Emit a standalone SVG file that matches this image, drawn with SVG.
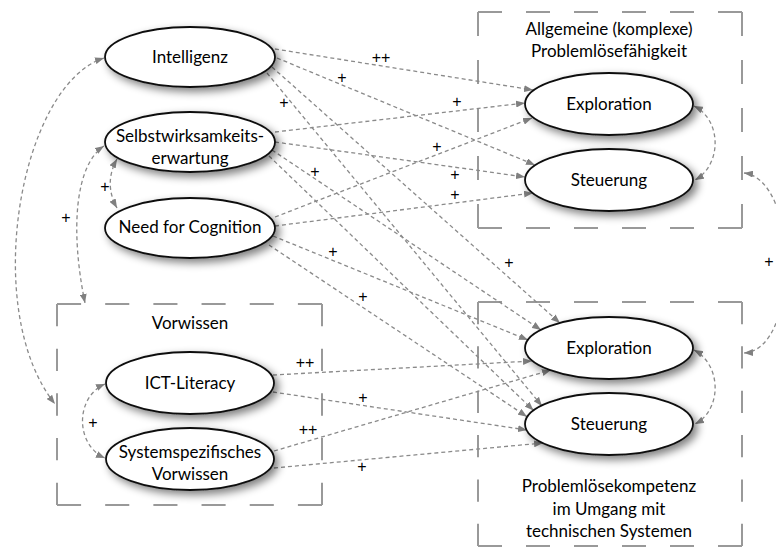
<svg xmlns="http://www.w3.org/2000/svg" width="776" height="548" viewBox="0 0 776 548">
<defs>
<style>
.t{font-family:Lato,"Open Sans","Liberation Sans",sans-serif;font-size:17px;fill:#000;text-anchor:middle}
.lb{font-family:"Liberation Sans",Arial,sans-serif;font-size:16px;fill:#000;text-anchor:middle}
.n{fill:#fff;stroke:#111;stroke-width:1.8;filter:url(#sh)}
.c{fill:none;stroke:#8a8a8a;stroke-width:1.3;stroke-dasharray:4 3;marker-end:url(#ah)}
.b{fill:none;stroke:#8a8a8a;stroke-width:1.3;stroke-dasharray:4 3;marker-start:url(#ah);marker-end:url(#ah)}
.bx line{stroke:#999;stroke-width:2;stroke-dasharray:1 1;fill:none}
</style>
<filter id="sh" x="-20%" y="-30%" width="150%" height="180%">
<feGaussianBlur in="SourceAlpha" stdDeviation="4"/>
<feOffset dx="4" dy="4" result="o"/>
<feComponentTransfer><feFuncA type="linear" slope="0.5"/></feComponentTransfer>
<feMerge><feMergeNode/><feMergeNode in="SourceGraphic"/></feMerge>
</filter>
<marker id="ah" viewBox="0 0 9 7" refX="9" refY="3.5" markerWidth="9" markerHeight="7" markerUnits="userSpaceOnUse" orient="auto-start-reverse">
<path d="M0,0 L9,3.5 L0,7 z" fill="#808080"/>
</marker>
</defs>
<rect width="776" height="548" fill="#fff"/>

<g id="box-allgemein" class="bx">
<line x1="478" y1="12" x2="742" y2="12" pathLength="11"/>
<line x1="478" y1="228" x2="742" y2="228" pathLength="11"/>
<line x1="478" y1="12" x2="478" y2="228" pathLength="9"/>
<line x1="742" y1="12" x2="742" y2="228" pathLength="9"/>
<text class="t" x="609" y="35">Allgemeine (komplexe)</text>
<text class="t" x="609" y="57">Problemlösefähigkeit</text>
</g>
<g id="box-vorwissen" class="bx">
<line x1="57" y1="304" x2="322" y2="304" pathLength="11"/>
<line x1="57" y1="505" x2="322" y2="505" pathLength="11"/>
<line x1="57" y1="304" x2="57" y2="505" pathLength="9"/>
<line x1="322" y1="304" x2="322" y2="505" pathLength="9"/>
<text class="t" x="190" y="329">Vorwissen</text>
</g>
<g id="box-kompetenz" class="bx">
<line x1="478" y1="302" x2="742" y2="302" pathLength="11"/>
<line x1="478" y1="546" x2="742" y2="546" pathLength="11"/>
<line x1="478" y1="302" x2="478" y2="546" pathLength="11"/>
<line x1="742" y1="302" x2="742" y2="546" pathLength="11"/>
<text class="t" x="609" y="492">Problemlösekompetenz</text>
<text class="t" x="609" y="515">im Umgang mit</text>
<text class="t" x="609" y="537">technischen Systemen</text>
</g>

<g id="connectors">
<path class="c" d="M275,49 L533,90"/>
<path class="c" d="M277,58 L535,165"/>
<path class="c" d="M272,67 L560,323"/>
<path class="c" d="M267,73 L542,406"/>
<path class="c" d="M275,132 L525,103"/>
<path class="c" d="M275,142 L525,177"/>
<path class="c" d="M272,150 L541,330"/>
<path class="c" d="M269,156 L533.5,410.4"/>
<path class="c" d="M275,217 L532,118"/>
<path class="c" d="M275,226 L533,193"/>
<path class="c" d="M273,236 L528,340"/>
<path class="c" d="M269,245 L527,416.7"/>
<path class="c" d="M273,375 L532,361"/>
<path class="c" d="M273,392 L527,430"/>
<path class="c" d="M274,451 L551,370"/>
<path class="c" d="M274,468 L543,443"/>
<path class="b" d="M104,58 C20,85 -20,310 55,404"/>
<path class="b" d="M104,146 C75,165 70,230 85,303"/>
<path class="b" d="M117,159 C108,175 108,192 117,208"/>
<path class="b" d="M105,384 C75,397 75,445 105,458"/>
<path class="b" d="M694,106 C722,120 722,165 695,180"/>
<path class="b" d="M694,350 C722,365 722,410 695,424"/>
<path class="b" d="M744,173 C800,180 800,350 744,353"/>
<text class="lb" x="381" y="63">++</text>
<text class="lb" x="342" y="83">+</text>
<text class="lb" x="284" y="108">+</text>
<text class="lb" x="457" y="107">+</text>
<text class="lb" x="437" y="152">+</text>
<text class="lb" x="315" y="177">+</text>
<text class="lb" x="455" y="180">+</text>
<text class="lb" x="455" y="200">+</text>
<text class="lb" x="105" y="192">+</text>
<text class="lb" x="66" y="223">+</text>
<text class="lb" x="333" y="257">+</text>
<text class="lb" x="509" y="268">+</text>
<text class="lb" x="363" y="302">+</text>
<text class="lb" x="305" y="368">++</text>
<text class="lb" x="363" y="403">+</text>
<text class="lb" x="308" y="435">++</text>
<text class="lb" x="362" y="472">+</text>
<text class="lb" x="93" y="428">+</text>
<text class="lb" x="769" y="267">+</text>
</g>

<g id="intelligenz"><ellipse class="n" cx="190" cy="57" rx="85" ry="30"/><text class="t" x="190" y="63">Intelligenz</text></g>
<g id="selbstwirksamkeit"><ellipse class="n" cx="190" cy="142" rx="85" ry="30"/><text class="t" x="190" y="142">Selbstwirksamkeits-</text><text class="t" x="190" y="164">erwartung</text></g>
<g id="nfc"><ellipse class="n" cx="190" cy="228" rx="85" ry="30"/><text class="t" x="190" y="233">Need for Cognition</text></g>
<g id="ict"><ellipse class="n" cx="190" cy="383" rx="84" ry="31"/><text class="t" x="190" y="389">ICT-Literacy</text></g>
<g id="systemwissen"><ellipse class="n" cx="190" cy="459" rx="84" ry="31"/><text class="t" x="190" y="458">Systemspezifisches</text><text class="t" x="190" y="480">Vorwissen</text></g>
<g id="exploration-a"><ellipse class="n" cx="609" cy="104" rx="84" ry="31"/><text class="t" x="609" y="110">Exploration</text></g>
<g id="steuerung-a"><ellipse class="n" cx="609" cy="180" rx="84" ry="31"/><text class="t" x="609" y="186">Steuerung</text></g>
<g id="exploration-b"><ellipse class="n" cx="609" cy="348" rx="84" ry="31"/><text class="t" x="609" y="354">Exploration</text></g>
<g id="steuerung-b"><ellipse class="n" cx="609" cy="424" rx="84" ry="31"/><text class="t" x="609" y="430">Steuerung</text></g>
</svg>
